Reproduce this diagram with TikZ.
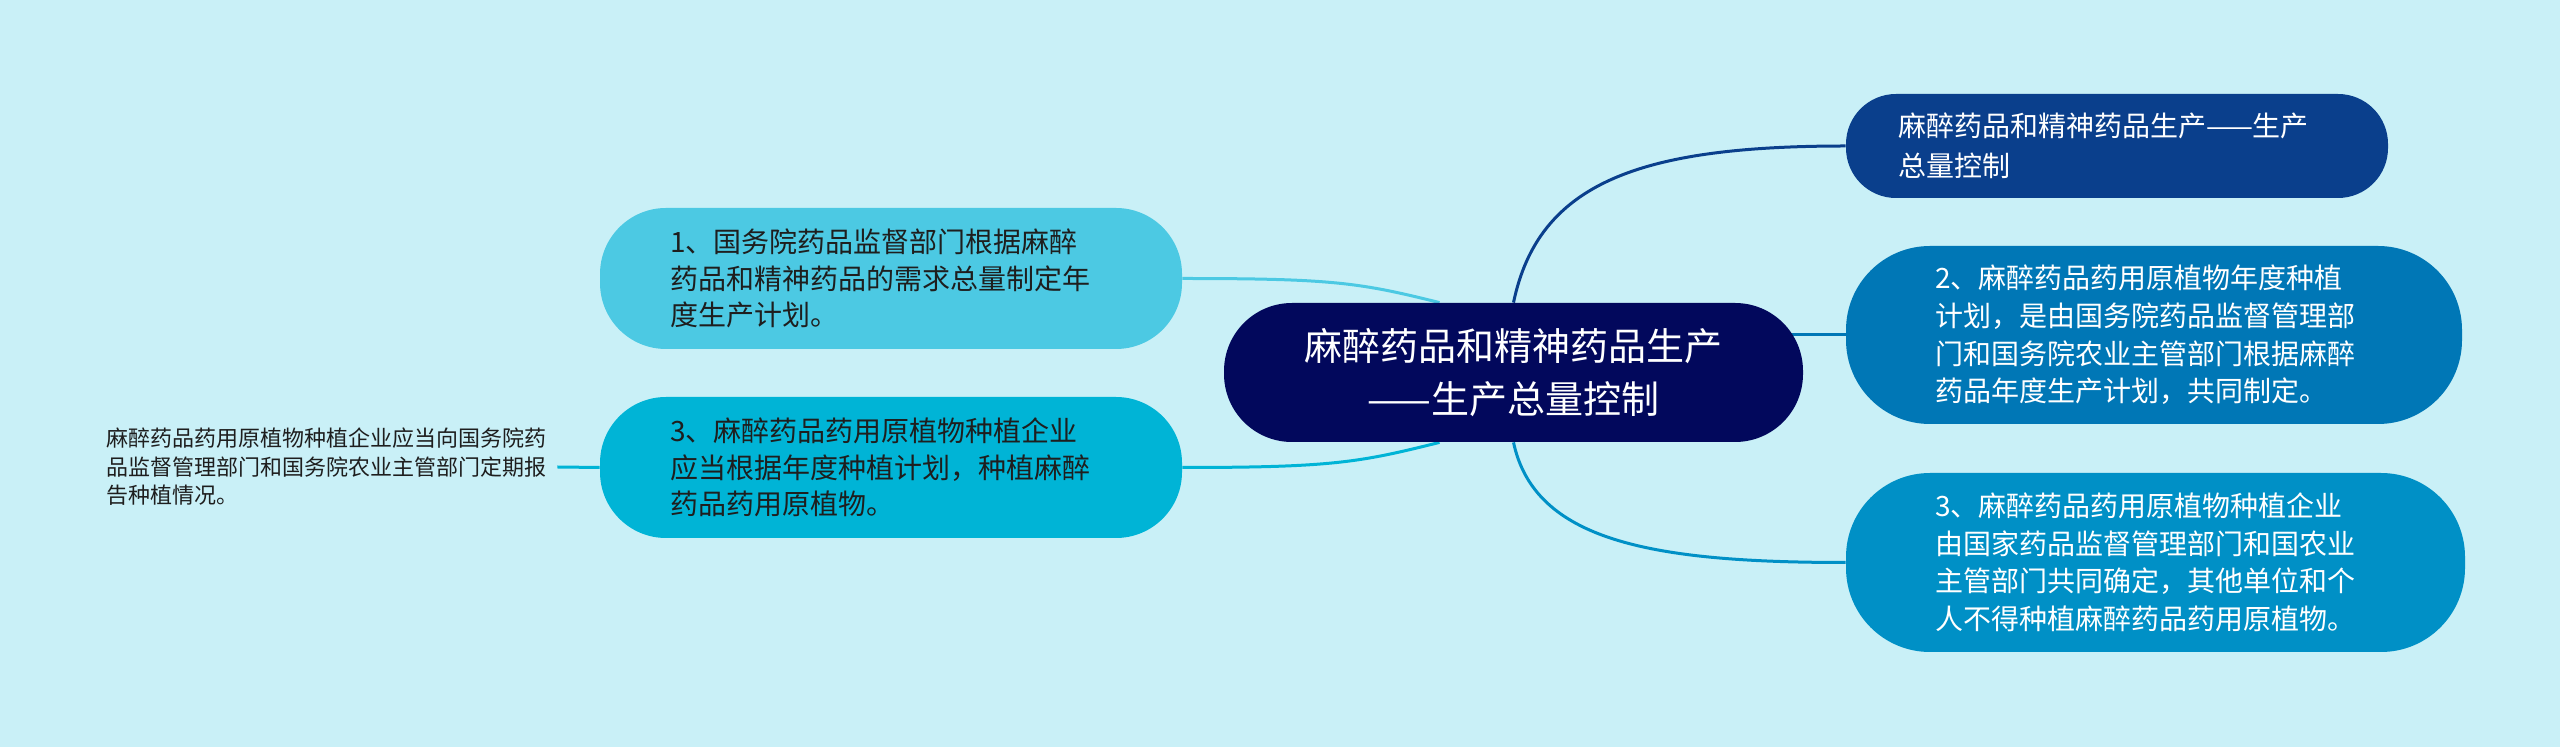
\documentclass[tikz,border=0pt]{standalone}
\usepackage{fontspec}
\setmainfont{Noto Sans CJK SC}
\definecolor{bgc}{RGB}{201,240,247}
\definecolor{rootc}{RGB}{2,8,92}
\definecolor{trc}{RGB}{10,63,140}
\definecolor{r2c}{RGB}{0,119,182}
\definecolor{r3c}{RGB}{0,144,198}
\definecolor{l1c}{RGB}{76,201,227}
\definecolor{l3c}{RGB}{0,180,214}
\definecolor{inkc}{RGB}{30,30,30}
\pgfdeclarelayer{back}
\pgfdeclarelayer{links}
\pgfsetlayers{back,links,main}

\begin{document}
\begin{tikzpicture}[x=0.5pt,y=0.5pt,yscale=-1,xscale=1,
  mainbox/.style={fill=rootc,text=white,rounded corners=34pt,align=center,
    text width=212pt,inner xsep=38.75pt,inner ysep=0pt,minimum height=69.5pt,
    font=\fontsize{19pt}{26.5pt}\selectfont},
  rightbox/.style={fill=#1,text=white,rounded corners=42pt,align=left,
    inner xsep=44.5pt,inner ysep=0pt,font=\fontsize{14pt}{18.8pt}\selectfont},
  leftbox/.style={fill=#1,text=inkc,rounded corners=33pt,align=left,
    text width=221pt,inner xsep=35pt,inner ysep=0pt,minimum height=70.5pt,
    font=\fontsize{14pt}{18.3pt}\selectfont},
  leaf/.style={text=inkc,align=left,text width=221.5pt,inner xsep=4pt,
    font=\fontsize{11pt}{14.25pt}\selectfont},
  link/.style={draw=#1,line width=1.5pt}]
\useasboundingbox (0,0) rectangle (2560,747);

% Background
\begin{pgfonlayer}{back}
\fill [bgc] (0,0) rectangle (2560,747);
\end{pgfonlayer}

% Root Node
\node [mainbox] (root) at (1513.5,372.5) {麻醉药品和精神药品生产\\——生产总量控制};

% Right Nodes
\node [rightbox=trc,text width=219pt,inner xsep=26pt,minimum height=52pt,rounded corners=25pt,font=\fontsize{14pt}{20pt}\selectfont] (total) at (2117,146) {麻醉药品和精神药品生产——生产\\总量控制};
\node [rightbox=r2c,text width=219pt,minimum height=89pt] (plan) at (2154,335) {2、麻醉药品药用原植物年度种植\\计划，是由国务院药品监督管理部\\门和国务院农业主管部门根据麻醉\\药品年度生产计划，共同制定。};
\node [rightbox=r3c,text width=220.5pt,minimum height=89.5pt] (firm) at (2155.5,562.5) {3、麻醉药品药用原植物种植企业\\由国家药品监督管理部门和国农业\\主管部门共同确定，其他单位和个\\人不得种植麻醉药品药用原植物。};

% Left Nodes
\node [leftbox=l1c] (demand) at (891,278.5) {1、国务院药品监督部门根据麻醉\\药品和精神药品的需求总量制定年\\度生产计划。};
\node [leftbox=l3c] (grow) at (891,467.5) {3、麻醉药品药用原植物种植企业\\应当根据年度种植计划，种植麻醉\\药品药用原植物。};

% Text Node
\node [leaf] (report) at (327.5,467) {麻醉药品药用原植物种植企业应当向国务院药\\品监督管理部门和国务院农业主管部门定期报\\告种植情况。};

% Curve Lines
\begin{pgfonlayer}{links}
\draw [link=trc] (root.north) .. controls +(25,-120) and +(-206,0) .. (total.west);
\draw [link=r2c] (plan.west) -- (plan.west -| root);
\draw [link=r3c] (root.south) .. controls +(21,98) and +(-196,0) .. (firm.west);
\draw [link=l1c] (demand.east) .. controls +(150,0) and +(-80,-20) .. ([xshift=-37pt]root.north);
\draw [link=l3c] (grow.east) .. controls +(150,0) and +(-80,20) .. ([xshift=-37pt]root.south);
\draw [link=l3c] (report.east) -- (grow.west);
\end{pgfonlayer}

\end{tikzpicture}
\end{document}
